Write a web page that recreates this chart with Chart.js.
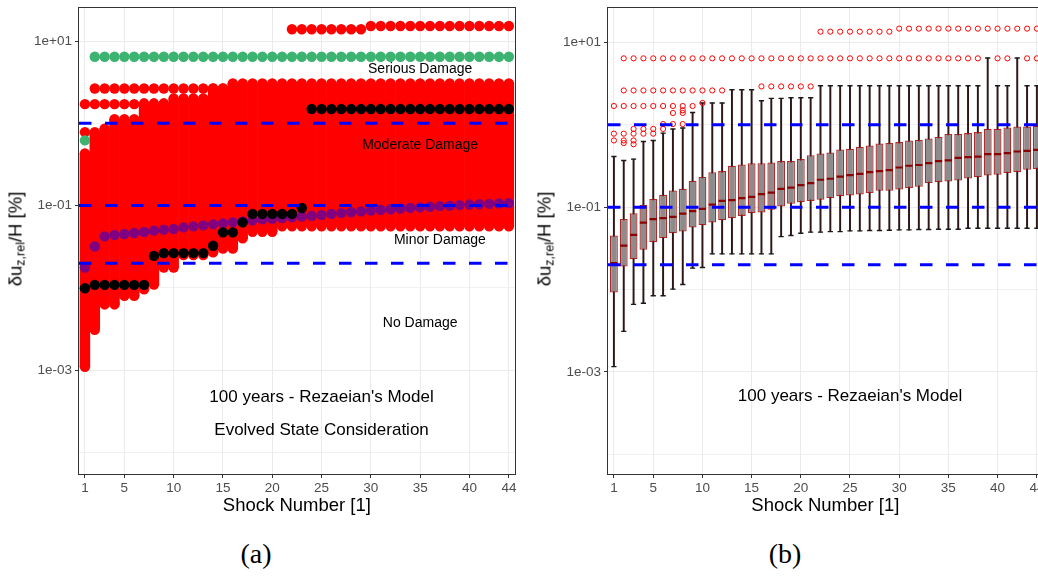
<!DOCTYPE html>
<html><head><meta charset="utf-8">
<script src="https://cdn.jsdelivr.net/npm/chart.js@4.4.1/dist/chart.umd.min.js"></script>
<style>
html,body{margin:0;padding:0;background:#fff;width:1038px;height:576px;overflow:hidden;position:relative;font-family:"Liberation Sans",Arial,sans-serif;}
canvas{position:absolute;top:0;}
#c1{left:0;} #c2{left:529px;}
.ylab{position:absolute;transform:translate(-50%,-50%) rotate(-90deg);font-size:18.5px;white-space:nowrap;color:#000;}
.ylab sub{font-size:12.5px;vertical-align:-3px;}
.cap{position:absolute;font-family:"Liberation Serif","DejaVu Serif",serif;font-size:28px;transform:translate(-50%,-50%);color:#000;}
</style></head><body>
<canvas id="c1" width="520" height="520"></canvas>
<canvas id="c2" width="520" height="520"></canvas>
<div class="ylab" style="left:16px;top:239px">δu<sub>z,rel</sub>/H [%]</div>
<div class="ylab" style="left:545px;top:239px">δu<sub>z,rel</sub>/H [%]</div>
<div class="cap" style="left:256px;top:554px">(a)</div>
<div class="cap" style="left:785px;top:554px">(b)</div>
<script>
const _ = null;
const shocks = [1,2,3,4,5,6,7,8,9,10,11,12,13,14,15,16,17,18,19,20,21,22,23,24,25,26,27,28,29,30,31,32,33,34,35,36,37,38,39,40,41,42,43,44];
const xTicks = [1,5,10,15,20,25,30,35,40,44];
const yGridValues = [1e-4,1e-3,1e-2,1e-1,1,10];
const yTickValues = [1e-3,1e-1,10];
const yTickLabels = ['1e-03','1e-01','1e+01'];
const damageThresholds = [1.0,0.1,0.02];

// ---- panel (a): all simulations ----
const massLo = [0.0011,0.0031,0.0063,0.0063,0.0080,0.0080,0.0096,0.011,0.0177,0.0177,
  0.025,0.025,0.025,0.027,0.030,0.030,0.040,0.048,0.048,0.048,
  0.056,0.056,0.056,0.056,0.056,0.056,0.056,0.056,0.056,0.056,
  0.056,0.056,0.056,0.056,0.056,0.056,0.056,0.056,0.056,0.056,
  0.056,0.056,0.056,0.056];
const massHi = [0.43,0.78,0.86,1.12,1.12,1.12,1.75,1.75,1.75,2.0,
  2.0,2.0,2.0,2.65,2.65,3.05,3.05,3.05,3.05,3.05,
  3.05,3.05,3.05,3.05,3.05,3.05,3.05,3.05,3.05,3.05,
  3.05,3.05,3.05,3.05,3.05,3.05,3.05,3.05,3.05,3.05,
  3.05,3.05,3.05,3.05];
const redTop = [_,_,_,_,_,_,_,_,_,_,_,_,_,_,_,_,_,_,_,_,_,
  13.9,13.9,13.9,13.9,13.9,13.9,13.9,13.9,
  15.2,15.2,15.2,15.2,15.2,15.2,15.2,15.2,15.2,15.2,15.2,15.2,15.2,15.2,15.2];
const red265 = [_,2.65,2.65,2.65,2.65,2.65,2.65,2.65,2.65,2.65,2.65,2.65,2.65,2.65,2.65,
  _,_,_,_,_,_,_,_,_,_,_,_,_,_,_,_,_,_,_,_,_,_,_,_,_,_,_,_,_];
const red171 = [1.71,1.71,1.71,1.71,1.71,1.71,_,_,_,_,_,_,_,_,_,_,_,_,_,_,_,_,_,_,_,_,_,_,_,_,_,_,_,_,_,_,_,_,_,_,_,_,_,_];
const red078 = [0.78,_,_,_,_,_,_,_,_,_,_,_,_,_,_,_,_,_,_,_,_,_,_,_,_,_,_,_,_,_,_,_,_,_,_,_,_,_,_,_,_,_,_,_];
const greenSeries = [0.62,6.44,6.44,6.44,6.44,6.44,6.44,6.44,6.44,6.44,6.44,6.44,6.44,6.44,6.44,
  6.44,6.44,6.44,6.44,6.44,6.44,6.44,6.44,6.44,6.44,6.44,6.44,6.44,6.44,6.44,
  6.44,6.44,6.44,6.44,6.44,6.44,6.44,6.44,6.44,6.44,6.44,6.44,6.44,6.44];
const purpleSeries = [0.0177,0.0319,0.0423,0.0440,0.0452,0.0465,0.0478,0.0496,0.0510,0.0520,
  0.0544,0.0560,0.0575,0.0592,0.0609,0.0626,0.0644,0.0662,0.0681,0.0693,
  0.0705,0.072,0.0737,0.0753,0.077,0.079,0.081,0.083,0.085,0.087,
  0.0886,0.0902,0.092,0.0937,0.0953,0.097,0.0985,0.100,0.1015,0.103,
  0.104,0.105,0.106,0.107];
const blackSeries = [0.0099,0.0109,0.0109,0.0109,0.0109,0.0109,0.0109,0.0245,0.0265,0.0265,
  0.0265,0.0265,0.0265,0.0325,0.0473,0.0473,0.0626,0.0792,0.0792,0.0792,
  0.0792,0.0792,0.0936,1.49,1.49,1.49,1.49,1.49,1.49,1.49,
  1.49,1.49,1.49,1.49,1.49,1.49,1.49,1.49,1.49,1.49,
  1.49,1.49,1.49,1.49];

// ---- panel (b): box plot statistics ----
const boxQ1 = [0.0092,0.0190,0.0233,0.0303,0.0376,0.0420,0.0483,0.0505,0.0565,0.0604,
  0.0650,0.0694,0.0734,0.0783,0.0845,0.0859,0.0927,0.102,0.110,0.115,
  0.119,0.123,0.129,0.136,0.138,0.142,0.148,0.158,0.158,0.164,
  0.170,0.177,0.196,0.201,0.205,0.210,0.223,0.230,0.242,0.247,
  0.259,0.266,0.284,0.290];
const boxMed = [0.0209,0.0341,0.0461,0.0650,0.0714,0.0734,0.0761,0.0836,0.0894,0.0953,
  0.107,0.119,0.122,0.129,0.133,0.144,0.150,0.167,0.173,0.185,
  0.196,0.215,0.221,0.235,0.245,0.254,0.266,0.274,0.282,0.303,
  0.318,0.325,0.342,0.362,0.370,0.397,0.405,0.410,0.440,0.440,
  0.453,0.474,0.483,0.497];
const boxQ3 = [0.0452,0.0719,0.0845,0.107,0.126,0.141,0.159,0.167,0.209,0.233,
  0.266,0.274,0.318,0.330,0.342,0.342,0.348,0.362,0.362,0.383,
  0.428,0.448,0.461,0.501,0.511,0.541,0.560,0.593,0.600,0.616,
  0.644,0.652,0.682,0.709,0.771,0.771,0.792,0.815,0.894,0.894,
  0.927,0.953,0.953,0.973];
const whiskLo = [0.00116,0.0031,0.0066,0.0068,0.0084,0.0084,0.0101,0.0115,0.0182,0.0185,
  0.0271,0.0271,0.0271,0.0271,0.0271,0.0271,0.0271,0.0439,0.0452,0.0483,
  0.0497,0.0497,0.0505,0.0505,0.0515,0.0515,0.0520,0.0520,0.0525,0.0530,
  0.0530,0.0535,0.0535,0.0540,0.0540,0.0540,0.0555,0.0555,0.0555,0.0555,
  0.0555,0.0555,0.0555,0.0555];
const whiskHi = [0.412,0.368,0.383,0.626,0.644,0.792,0.887,0.912,1.41,1.84,
  1.84,1.84,2.66,2.66,2.66,1.96,2.09,2.09,2.13,2.13,
  2.13,2.98,2.98,2.98,2.98,2.98,2.98,2.98,2.98,2.98,
  2.98,2.98,2.98,2.98,2.98,2.98,2.98,2.98,6.46,2.98,
  2.98,6.46,2.98,2.98];
const outTop = [_,_,_,_,_,_,_,_,_,_,_,_,_,_,_,_,_,_,_,_,_,
  13.5,13.5,13.5,13.5,13.5,13.5,13.5,13.5,
  14.7,14.7,14.7,14.7,14.7,14.7,14.7,14.7,14.7,14.7,14.7,14.7,14.7,14.7,14.7];
const out64 = [_,6.4,6.4,6.4,6.4,6.4,6.4,6.4,6.4,6.4,6.4,6.4,6.4,6.4,6.4,6.4,6.4,6.4,6.4,6.4,
  6.4,6.4,6.4,6.4,6.4,6.4,6.4,6.4,6.4,6.4,6.4,6.4,6.4,6.4,6.4,6.4,6.4,6.4,_,6.4,6.4,_,6.4,6.4];
const out26 = [_,2.61,2.61,2.61,2.61,2.61,2.61,2.61,2.61,2.61,2.61,2.61,_,_,_,
  2.92,2.92,2.92,2.92,2.92,2.92,_,_,_,_,_,_,_,_,_,_,_,_,_,_,_,_,_,_,_,_,_,_,_];
const out17 = [1.69,1.69,1.69,1.69,1.69,1.69,1.69,1.69,1.69,1.84,_,_,_,_,_,_,_,_,_,_,_,_,_,_,_,_,_,_,_,_,_,_,_,_,_,_,_,_,_,_,_,_,_,_];
const out15 = [_,_,_,_,_,_,_,1.50,_,_,_,_,_,_,_,_,_,_,_,_,_,_,_,_,_,_,_,_,_,_,_,_,_,_,_,_,_,_,_,_,_,_,_,_];
const out14 = [_,_,_,_,_,_,1.39,1.39,_,_,_,_,_,_,_,_,_,_,_,_,_,_,_,_,_,_,_,_,_,_,_,_,_,_,_,_,_,_,_,_,_,_,_,_];
const out10 = [_,_,_,_,_,1.02,1.02,1.02,_,_,_,_,_,_,_,_,_,_,_,_,_,_,_,_,_,_,_,_,_,_,_,_,_,_,_,_,_,_,_,_,_,_,_,_];
const out089 = [_,_,0.89,0.89,0.89,0.89,_,_,_,_,_,_,_,_,_,_,_,_,_,_,_,_,_,_,_,_,_,_,_,_,_,_,_,_,_,_,_,_,_,_,_,_,_,_];
const out078 = [0.78,0.78,0.78,0.78,0.78,_,_,_,_,_,_,_,_,_,_,_,_,_,_,_,_,_,_,_,_,_,_,_,_,_,_,_,_,_,_,_,_,_,_,_,_,_,_,_];
const out064 = [0.645,0.645,0.645,_,_,_,_,_,_,_,_,_,_,_,_,_,_,_,_,_,_,_,_,_,_,_,_,_,_,_,_,_,_,_,_,_,_,_,_,_,_,_,_,_];
const out060 = [_,0.60,0.58,_,_,_,_,_,_,_,_,_,_,_,_,_,_,_,_,_,_,_,_,_,_,_,_,_,_,_,_,_,_,_,_,_,_,_,_,_,_,_,_,_];

const annotationsA = [
  {text:'Serious Damage', x:35, y:4.56, size:14},
  {text:'Moderate Damage', x:35, y:0.54, size:14},
  {text:'Minor Damage', x:37, y:0.038, size:14},
  {text:'No Damage', x:35, y:0.0037, size:14},
  {text:"100 years - Rezaeian's Model", x:25, y:0.00047, size:17},
  {text:'Evolved State Consideration', x:25, y:0.000186, size:17}
];
const annotationsB = [
  {text:"100 years - Rezaeian's Model", x:25, y:0.0005, size:17}
];

const FONT = "'Liberation Sans', Arial, sans-serif";
Chart.defaults.font.family = FONT;

function pts(arr){ const out=[]; arr.forEach((v,i)=>{ if(v!==null) out.push({x:shocks[i], y:v}); }); return out; }
function rng(lo,hi){ return shocks.map((s,i)=>({x:s, y:[lo[i],hi[i]]})); }

function overlay(annots){
  return {
    id:'overlay',
    afterDatasetsDraw(chart){
      const {ctx, chartArea:a, scales:{x,y}} = chart;
      ctx.save();
      ctx.beginPath(); ctx.rect(a.left,a.top,a.width,a.height); ctx.clip();
      ctx.strokeStyle='#0000ff'; ctx.lineWidth=3; ctx.setLineDash([12.5,13.5]);
      damageThresholds.forEach(v=>{
        const py=y.getPixelForValue(v);
        ctx.beginPath(); ctx.moveTo(a.left,py); ctx.lineTo(a.right,py); ctx.stroke();
      });
      ctx.setLineDash([]);
      ctx.fillStyle='#000'; ctx.textAlign='center'; ctx.textBaseline='middle';
      annots.forEach(t=>{
        ctx.font = t.size+'px '+FONT;
        ctx.fillText(t.text, x.getPixelForValue(t.x), y.getPixelForValue(t.y));
      });
      ctx.restore();
      ctx.save();
      ctx.strokeStyle='#333'; ctx.lineWidth=1;
      ctx.strokeRect(Math.round(a.left)-0.5, Math.round(a.top)+0.5, Math.round(a.width)+1, Math.round(a.height)-1);
      ctx.restore();
    }
  };
}

function scales(yMin,yMax){
  return {
    x:{type:'linear', min:0.4, max:44.6, offset:false,
      afterBuildTicks:s=>{ s.ticks = xTicks.map(v=>({value:v})); },
      afterFit:s=>{ s.height = 45; s.paddingLeft = 0; s.paddingRight = 0; },
      grid:{color:'#ebebeb', lineWidth:1, offset:false, drawTicks:true, tickLength:3, tickColor:'#333'},
      border:{display:false},
      ticks:{autoSkip:false, maxRotation:0, color:'#4d4d4d', font:{size:13.5}, padding:2, callback:v=>String(v)},
      title:{display:true, text:'Shock Number [1]', color:'#000', font:{size:18.5}, padding:{top:0,bottom:3}}
    },
    y:{type:'logarithmic', min:yMin, max:yMax, bounds:'data',
      afterBuildTicks:s=>{ s.ticks = yGridValues.map(v=>({value:v})); },
      afterFit:s=>{ s.width = 79; s.paddingTop = 0; s.paddingBottom = 0; },
      grid:{color:'#ebebeb', lineWidth:c=> yTickValues.includes(c.tick.value)?1:0.7, drawTicks:true, tickLength:4,
        tickColor:c=> yTickValues.includes(c.tick.value)?'#333':'rgba(0,0,0,0)'},
      border:{display:false},
      ticks:{autoSkip:false, color:'#4d4d4d', font:{size:13.5}, padding:3,
        callback:v=>{ const i=yTickValues.indexOf(v); return i>=0?yTickLabels[i]:''; }}
    }
  };
}

const baseOpts = (yMin,yMax)=>({
  responsive:false, animation:false,
  layout:{padding:{top:7,right:5,left:0,bottom:0}},
  plugins:{legend:{display:false}, tooltip:{enabled:false}},
  scales:scales(yMin,yMax)
});

const dot = (data,color,order)=>({type:'scatter', data, order, pointRadius:5.2, pointHoverRadius:5.2,
  backgroundColor:color, borderColor:color, borderWidth:0});

new Chart(document.getElementById('c1'), {
  type:'bar',
  data:{datasets:[
    {type:'bar', data:rng(massLo,massHi), backgroundColor:'#ff0000', borderWidth:0, grouped:false,
      barPercentage:1, categoryPercentage:1, order:10},
    dot(pts(massHi),'#ff0000',9),
    dot(pts(massLo),'#ff0000',9),
    dot(pts(redTop),'#ff0000',8),
    dot(pts(red265),'#ff0000',8),
    dot(pts(red171),'#ff0000',8),
    dot(pts(red078),'#ff0000',8),
    dot(pts(purpleSeries),'#800080',4),
    dot(pts(greenSeries),'#3cb371',3),
    dot(pts(blackSeries),'#000000',2)
  ]},
  options:baseOpts(5.33e-5,25.9),
  plugins:[overlay(annotationsA)]
});

const circ = (data)=>({type:'scatter', data, order:1, pointRadius:2.6, pointHoverRadius:2.6,
  pointStyle:'circle', backgroundColor:'rgba(0,0,0,0)', borderColor:'#ff0000', borderWidth:1});

new Chart(document.getElementById('c2'), {
  type:'bar',
  data:{datasets:[
    {type:'bar', data:rng(whiskLo,whiskHi), backgroundColor:'#2e1616', borderWidth:0, grouped:false,
      barThickness:1.3, order:6},
    {type:'scatter', data:pts(whiskLo), order:5, pointStyle:'line', pointRadius:2.6, borderColor:'#1a1a1a', borderWidth:1.4},
    {type:'scatter', data:pts(whiskHi), order:5, pointStyle:'line', pointRadius:2.6, borderColor:'#1a1a1a', borderWidth:1.4},
    {type:'bar', data:rng(boxQ1,boxQ3), backgroundColor:'#8c8c8c', borderColor:'rgba(165,20,20,0.9)', borderWidth:1.3,
      borderSkipped:false, grouped:false, barPercentage:0.8, categoryPercentage:1, order:4},
    {type:'scatter', data:pts(boxMed), order:3, pointStyle:'line', pointRadius:3.6, borderColor:'#8b0000', borderWidth:2.2},
    circ(pts(outTop)), circ(pts(out64)), circ(pts(out26)), circ(pts(out17)), circ(pts(out15)),
    circ(pts(out14)), circ(pts(out10)), circ(pts(out089)), circ(pts(out078)), circ(pts(out064)), circ(pts(out060))
  ]},
  options:baseOpts(5.6e-5,26.9),
  plugins:[overlay(annotationsB)]
});
</script>
</body></html>
